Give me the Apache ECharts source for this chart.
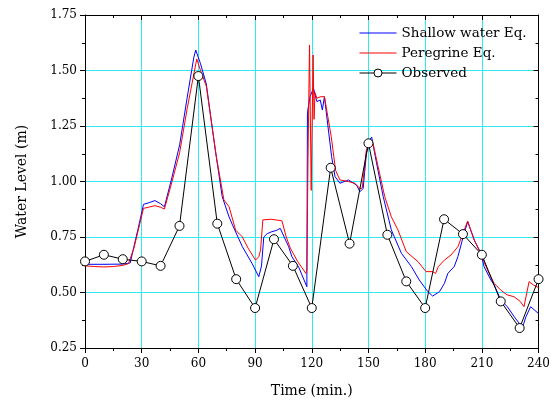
<!DOCTYPE html>
<html>
<head>
<meta charset="utf-8">
<script src="https://cdn.jsdelivr.net/npm/echarts@6/dist/echarts.min.js"></script>
<style>html,body{margin:0;padding:0;background:#fff;}#c{width:553px;height:403px;}</style>
</head>
<body>
<div id="c"></div>
<script>
const xTicks = [0, 30, 60, 90, 120, 150, 180, 210, 240];
const yTicks = [0.25, 0.50, 0.75, 1.00, 1.25, 1.50, 1.75];

const observedTimes = [0,10,20,30,40,50,60,70,80,90,100,110,120,130,140,150,160,170,180,190,200,210,220,230,240];
const observedLevels = [0.64,0.67,0.65,0.64,0.62,0.80,1.475,0.81,0.56,0.43,0.74,0.62,0.43,1.062,0.72,1.172,0.76,0.55,0.43,0.83,0.763,0.67,0.46,0.34,0.56];

const shallowWater = [
[0,0.627],[10,0.627],[20,0.628],[23.9,0.633],[27.9,0.78],[30.96,0.897],[33.98,0.905],[37.0,0.914],[40.0,0.90],[42.03,0.886],
[46.06,1.02],[50.08,1.165],[54.11,1.38],[57.6,1.56],[58.6,1.592],[61.15,1.53],[64.17,1.44],[67.2,1.25],[69.2,1.127],[72.6,0.932],
[76.25,0.84],[78.27,0.80],[83.3,0.706],[88.33,0.632],[91.96,0.571],[93.4,0.62],[94.6,0.75],[96.4,0.765],[98.9,0.774],[101.4,0.78],
[103.3,0.789],[105.4,0.75],[107.8,0.706],[109.5,0.661],[113.0,0.616],[117.4,0.526],[117.7,1.30],[117.9,1.322],[119.1,1.382],[120.9,1.42],
[122.7,1.36],[124.5,1.367],[125.6,1.322],[126.7,1.382],[128.8,1.232],[130.5,1.112],[132.3,1.022],[134.9,0.992],[139.4,1.007],[143.7,0.984],
[145.5,0.954],[147.2,0.969],[148.9,1.127],[150.7,1.187],[151.7,1.20],[154.3,1.082],[157.8,0.932],[162.1,0.782],[167.4,0.677],[172.7,0.617],
[176.9,0.556],[181.4,0.504],[183.96,0.484],[187.6,0.504],[190.2,0.541],[192.0,0.586],[195.4,0.617],[197.3,0.661],[200.1,0.75],[202.5,0.819],
[206.0,0.736],[209.5,0.677],[211.2,0.616],[214.8,0.556],[216.5,0.534],[220.0,0.466],[223.5,0.436],[227.2,0.39],[231.5,0.342],[233.3,0.39],
[235.8,0.436],[240,0.405]
];

const peregrine = [
[0,0.62],[5,0.617],[10,0.615],[15,0.617],[20,0.622],[23,0.63],[25.9,0.70],[30.96,0.879],[33.98,0.885],[37.0,0.891],[40.0,0.884],[42.03,0.876],
[46.06,1.0],[50.08,1.13],[54.1,1.33],[59.14,1.552],[61.15,1.50],[64.17,1.43],[67.2,1.25],[69.5,1.112],[73.5,0.917],[76.25,0.886],
[79.7,0.781],[83.2,0.751],[86.3,0.70],[90.25,0.646],[91.96,0.661],[92.9,0.691],[94.1,0.827],[98.4,0.83],[104.2,0.823],[106.5,0.75],
[108.7,0.699],[112.5,0.64],[116.9,0.586],[117.4,0.60],[118.0,1.1],[118.8,1.615],[119.7,0.96],[120.7,1.57],[121.2,1.28],[121.7,1.40],
[122.7,1.375],[124.6,1.382],[126.7,1.382],[130.3,1.202],[132.6,1.05],[134.9,1.007],[139.4,1.0],[142.7,0.992],[145.5,0.969],[146.7,0.97],
[148.9,1.142],[150.7,1.179],[152.4,1.172],[155.1,1.067],[158.6,0.932],[162.1,0.841],[165.6,0.782],[170.0,0.684],[176.2,0.639],[180.5,0.594],
[183.96,0.594],[185.5,0.586],[187.0,0.617],[190.2,0.646],[193.7,0.669],[197.3,0.706],[202.5,0.822],[206.0,0.736],[209.1,0.68],[213.0,0.601],
[216.5,0.541],[220.0,0.511],[223.2,0.49],[227.0,0.481],[230.3,0.46],[232.3,0.436],[233.8,0.50],[235.0,0.549],[237.3,0.534],[240,0.522]
];

const FONT = 'DejaVu Serif';
const GRIDC = '#30eaf2';
const chart = echarts.init(document.getElementById('c'), null, {renderer: 'canvas'});

const observed = observedTimes.map((t, i) => [t, observedLevels[i]]);

const baseX = {
  type: 'value', min: xTicks[0], max: xTicks[xTicks.length - 1], interval: 30,
  axisLine: {show: true, onZero: false, lineStyle: {color: '#000', width: 1}},
};
const baseY = {
  type: 'value', min: yTicks[0], max: yTicks[yTicks.length - 1], interval: 0.25,
  axisLine: {show: true, onZero: false, lineStyle: {color: '#000', width: 1}},
};

const observedIcon = 'path://M0,0 M37,10 M0,5 L14.5,5 M22.5,5 L37,5 M22.5,5 A4,4 0 1,1 14.5,5 A4,4 0 1,1 22.5,5 Z';

chart.setOption({
  animation: false,
  backgroundColor: '#fff',
  grid: {left: 85, right: 12, top: 15, bottom: 55, containLabel: false},
  legend: {
    orient: 'vertical', left: 359, top: 26, padding: 0, itemWidth: 37, itemHeight: 10, itemGap: 6,
    lineStyle: {width: 1},
    textStyle: {fontFamily: FONT, fontSize: 13.5, color: '#000', lineHeight: 14, padding: [0, 0, 0, 0]},
    data: [
      {name: 'Shallow water Eq.', itemStyle: {opacity: 0}},
      {name: 'Peregrine Eq.', itemStyle: {opacity: 0}},
      {name: 'Observed', icon: observedIcon,
        itemStyle: {color: '#fff', borderColor: '#000', borderWidth: 1}}
    ]
  },
  xAxis: [
    Object.assign({}, baseX, {
      position: 'bottom',
      name: 'Time (min.)', nameLocation: 'middle', nameGap: 36,
      nameTextStyle: {fontFamily: FONT, fontSize: 14, color: '#000'},
      axisTick: {show: true, inside: false, length: 5, lineStyle: {color: '#000'}},
      minorTick: {show: true, splitNumber: 2, length: 3, lineStyle: {color: '#000'}},
      axisLabel: {fontFamily: FONT, fontSize: 12, color: '#000', margin: 10},
      splitLine: {show: true, lineStyle: {color: GRIDC, width: 1}}
    }),
    Object.assign({}, baseX, {
      position: 'top',
      axisTick: {show: true, inside: true, length: 5, lineStyle: {color: '#000'}},
      minorTick: {show: true, splitNumber: 2, length: 3, lineStyle: {color: '#000'}},
      axisLabel: {show: false},
      splitLine: {show: false}
    })
  ],
  yAxis: [
    Object.assign({}, baseY, {
      position: 'left',
      name: 'Water Level (m)', nameLocation: 'middle', nameGap: 56,
      nameTextStyle: {fontFamily: FONT, fontSize: 14, color: '#000'},
      axisTick: {show: true, inside: false, length: 5, lineStyle: {color: '#000'}},
      minorTick: {show: true, splitNumber: 2, length: 3, lineStyle: {color: '#000'}},
      axisLabel: {fontFamily: FONT, fontSize: 12, color: '#000', margin: 8,
        formatter: v => v.toFixed(2)},
      splitLine: {show: true, lineStyle: {color: GRIDC, width: 1}}
    }),
    Object.assign({}, baseY, {
      position: 'right',
      axisTick: {show: true, inside: true, length: 5, lineStyle: {color: '#000'}},
      minorTick: {show: true, splitNumber: 2, length: 3, lineStyle: {color: '#000'}},
      axisLabel: {show: false},
      splitLine: {show: false}
    })
  ],
  series: [
    {name: 'Shallow water Eq.', type: 'line', data: shallowWater, symbol: 'none',
      lineStyle: {color: '#0000ff', width: 1}, itemStyle: {color: '#0000ff'}, z: 3},
    {name: 'Peregrine Eq.', type: 'line', data: peregrine, symbol: 'none',
      lineStyle: {color: '#ff0000', width: 1}, itemStyle: {color: '#ff0000'}, z: 4},
    {name: 'Observed', type: 'line', data: observed, symbol: 'circle', symbolSize: 9,
      lineStyle: {color: '#000', width: 1},
      itemStyle: {color: '#fff', borderColor: '#000', borderWidth: 1}, z: 5}
  ]
});
</script>
</body>
</html>
